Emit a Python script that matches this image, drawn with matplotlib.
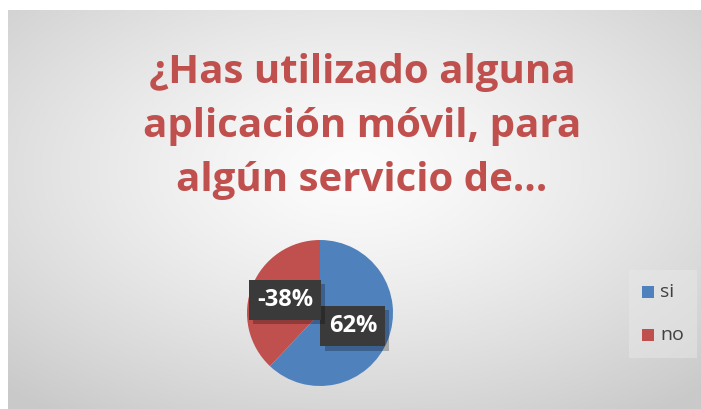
import numpy as np
import matplotlib.pyplot as plt
from matplotlib.patches import Rectangle
import matplotlib.patheffects as pe

# data
categorias = ["si", "no"]
valores = [62, -38]
colores = ["#4f81bd", "#c0504d"]
titulo = "¿Has utilizado alguna\naplicación móvil, para\nalgún servicio de…"

W, H = 701, 409
fig = plt.figure(figsize=(W / 100, H / 100), dpi=100)
fig.patch.set_facecolor("white")

# gradient background of the chart area
bg = fig.add_axes([8 / W, 0, (W - 8) / W, (H - 10) / H])
bg.set_axis_off()
yy, xx = np.mgrid[0:1:200j, 0:1:300j]
d = np.sqrt(((xx - 0.5) * 1.0) ** 2 + ((yy - 0.6) * 1.0) ** 2)
val = 0.99 - 0.2 * np.clip(d / 0.75, 0, 1) ** 1.3
bg.imshow(np.dstack([val, val, val]), extent=[0, 1, 0, 1], aspect="auto", origin="lower")
bg.set_xlim(0, 1)
bg.set_ylim(0, 1)

fig.text(362 / W, 1 - 126 / H, titulo, ha="center", va="center", fontsize=29,
         fontweight="bold", color="#c0504d", family="Open Sans", linespacing=1.5)

# pie
r = 73
cx, cy = 320, 313
ax = fig.add_axes([(cx - r) / W, 1 - (cy + r) / H, 2 * r / W, 2 * r / H])
ax.pie([abs(v) for v in valores], colors=colores, startangle=90, counterclock=False,
       wedgeprops=dict(edgecolor="none"))
ax.set_aspect("auto")
ax.set_xlim(-1, 1)
ax.set_ylim(-1, 1)

# data labels with a soft shadow
pos = [(0.45, -0.18), (-0.48, 0.18)]
for v, (x, y) in zip(valores, pos):
    t = ax.text(x, y, f"{v}%", ha="center", va="center", fontsize=17, fontweight="bold",
                color="white", family="Open Sans",
                bbox=dict(boxstyle="square,pad=0.35", fc="#3a3a3a", ec="none"))
    t.get_bbox_patch().set_path_effects([
        pe.SimplePatchShadow(offset=(3, -3), shadow_rgbFace="black", alpha=0.25),
        pe.Normal()])

# legend
fig.patches.append(Rectangle((629 / W, 1 - 358 / H), 68 / W, 88 / H,
                             transform=fig.transFigure, fc="#e8e8e8", ec="none", alpha=0.5))
for i, (c, col) in enumerate(zip(categorias, colores)):
    y = 1 - (292 + 43 * i) / H
    fig.patches.append(Rectangle((642 / W, y - 6 / H), 12 / W, 12 / H,
                                 transform=fig.transFigure, fc=col, ec="none"))
    fig.text(660 / W, y, c, ha="left", va="center", fontsize=14, color="#404040",
             family="Open Sans")

fig.savefig("out.png", dpi=100)
